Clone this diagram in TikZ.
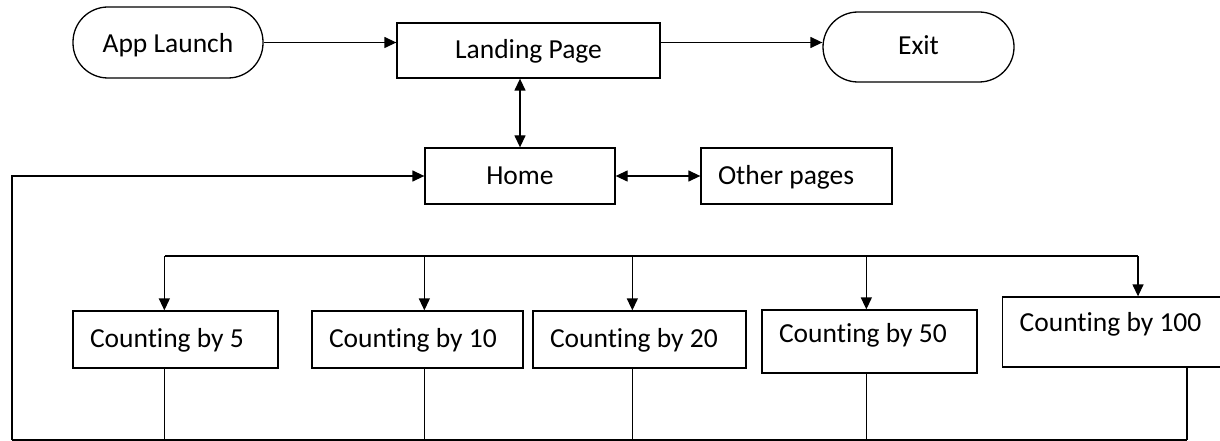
\documentclass[tikz,border=0pt]{standalone}
\usepackage{fontspec}
\setmainfont{Carlito}[Ligatures=NoCommon]
\usetikzlibrary{arrows.meta}
\newcommand\plainspaces{\spaceskip=0pt\xspaceskip=0pt\relax}
\tikzset{
  box/.style={draw, inner sep=0pt, text height=22pt, text depth=6pt},
  lbox/.style={box, align=left, inner xsep=17pt, text width=#1, minimum height=57pt,
    execute at begin node=\plainspaces},
  term/.style={box, rounded corners=35pt, minimum width=190pt, minimum height=71pt}
}
\begin{document}
\begin{tikzpicture}[x=1pt, y=-1pt, line width=1.3pt,
  font=\fontsize{27.5}{33}\selectfont, >={Triangle[length=12pt,width=11pt]}]
\useasboundingbox (0,0) rectangle (1220,441);
\clip (0,0) rectangle (1220,441);
% top row
\node[term, text depth=1pt] (app) at (168,42.5) {App Launch};
\node[box, minimum width=263pt, minimum height=55pt] (land) at (528.5,50.5) {Landing Page};
\node[term, minimum width=191pt, minimum height=70pt] (exit) at (918.5,47) {Exit};
\node[box, minimum width=190pt, minimum height=56pt] (home) at (520,176) {Home};
\node[lbox=157pt, minimum height=56pt] (other) at (796.5,176) {Other pages};
% counting pages
\node[lbox=171pt] (c5) at (175.5,339.5) {Counting by 5};
\node[lbox=177pt] (c10) at (417.5,339.5) {Counting by 10};
\node[lbox=179pt] (c20) at (639.5,339.5) {Counting by 20};
\node[lbox=181pt, minimum height=63pt, text depth=20pt] (c50) at (869.5,341.5) {Counting by 50};
\node[lbox=206pt, minimum height=70pt, text depth=24pt, anchor=west] (c100) at (1002,332) {Counting by 100};
\coordinate (bus) at (165,256);
\coordinate (busend) at (1138,256);
\coordinate (base) at (12,440);
\coordinate (baseend) at (1187,440);

\draw[->] (app) -- (app -| land.west);
\draw[->] (land.east |- app) -- (exit.west |- app);
\draw[<->] (land.south -| home) -- (home.north);
\draw[<->] (home) -- (other);
\draw[->] (base) |- (home.west);
\draw (bus) -- (busend);
\draw (base) -- (baseend);
\foreach \n/\a/\b in {c5/92/92, c10/113/113, c20/100/100, c50/105/105, c100/136/185}{
  \path ([xshift=\a pt]\n.north west) coordinate (top)
        ([xshift=\b pt]\n.south west) coordinate (bot);
  \draw[->] (top |- bus) -- (top);
  \draw (bot) -- (bot |- base);
}
\end{tikzpicture}
\end{document}
